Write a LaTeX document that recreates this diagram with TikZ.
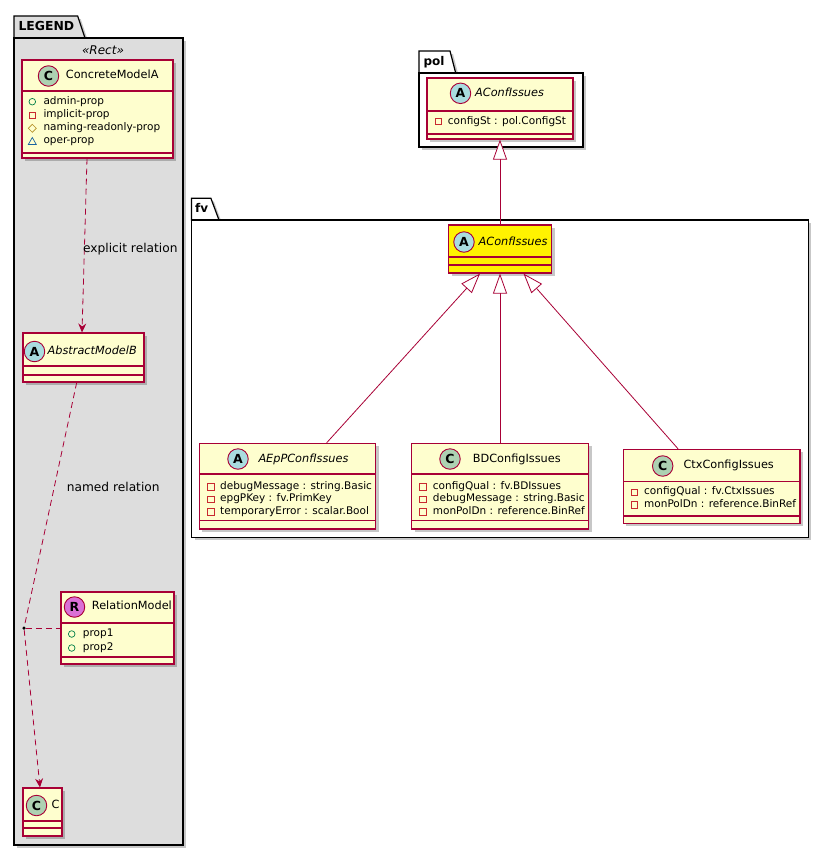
\documentclass[tikz,border=0pt]{standalone}
\usepackage{fontspec}
\setmainfont{DejaVu Sans}
\usetikzlibrary{arrows.meta,fit,shadows}
\definecolor{classbg}{HTML}{FEFECE}
\definecolor{umlred}{HTML}{A80036}
\definecolor{legendbg}{HTML}{DDDDDD}
\definecolor{spotA}{HTML}{A9DCDF}
\definecolor{spotC}{HTML}{ADD1B2}
\definecolor{spotR}{HTML}{DA70D6}
\definecolor{vispub}{HTML}{038048}
\definecolor{vispriv}{HTML}{C82930}
\definecolor{visprot}{HTML}{B38D22}
\definecolor{vispkg}{HTML}{1963A0}
\tikzset{
  myshadow/.style={drop shadow={shadow xshift=3pt, shadow yshift=-3pt, opacity=0.22, fill=black}},
  classbox/.style={draw=umlred, line width=1.1pt, fill=classbg, inner sep=0pt, myshadow},
  pkgbody/.style={draw=black, line width=1.2pt, inner sep=0pt, myshadow},
  pkgtab/.style={draw=black, line width=1.2pt, myshadow},
  sepline/.style={draw=umlred, line width=1.1pt},
  spot/.style={circle, draw=umlred, line width=0.9pt, minimum size=20.5pt, inner sep=0pt, font=\fontsize{12.5}{13}\selectfont\bfseries},
  cname/.style={anchor=west, inner sep=0pt, font=\fontsize{11.3}{13}\selectfont, text height=8pt, text depth=2.5pt},
  aname/.style={cname, font=\fontsize{11.3}{13}\selectfont\itshape},
  attrtext/.style={anchor=west, inner sep=0pt, font=\fontsize{10.5}{12}\selectfont, text height=7.5pt, text depth=2.3pt},
  pkglabel/.style={anchor=west, inner sep=0pt, font=\fontsize{12.4}{14}\selectfont\bfseries, text height=9pt, text depth=2.5pt},
  rellabel/.style={anchor=west, inner sep=0pt, font=\fontsize{12.2}{14}\selectfont, text height=9pt, text depth=2.5pt},
  conn/.style={draw=umlred, line width=0.8pt},
  dashedconn/.style={conn, dash pattern=on 6pt off 4pt},
  dep/.style={dashedconn, -{Stealth[length=9pt, width=8pt, inset=3pt]}},
  inh/.style={conn, -{Triangle[length=20pt, width=14pt, fill=white, line width=0.8pt]}},
  icon/.style={line width=0.7pt},
}
\newcommand{\icpub}[2]{\draw[icon, vispub] (#1,#2) circle (3.3pt);}
\newcommand{\icpriv}[2]{\draw[icon, vispriv, shift={(#1,#2)}] (-3.2,-3.2) rectangle (3.2,3.2);}
\newcommand{\icprot}[2]{\draw[icon, visprot, shift={(#1,#2)}] (0,-4) -- (4,0) -- (0,4) -- (-4,0) -- cycle;}
\newcommand{\icpkg}[2]{\draw[icon, vispkg, shift={(#1,#2)}] (0,-3.8) -- (4,3.2) -- (-4,3.2) -- cycle;}
\newcommand{\umlattr}[6]{#1{#2}{#4}\node[attrtext] (#5) at (#3,#4) {#6};}
\begin{document}
\begin{tikzpicture}[x=1pt, y=-1pt]
\useasboundingbox (0,0) rectangle (830,855);
\fill[white] (0,0) rectangle (830,855);

% ---------------- LEGEND package ----------------
\draw[pkgtab, fill=legendbg] (14,38) -- (14,16) -- (77.7,16) -- (85,38) -- cycle;
\node[pkgbody, fill=legendbg, fit={(14,38) (183,845)}] (legendpkg) {};
\node[pkglabel] (legendlbl) at (18.3,27) {LEGEND};
\node[inner sep=0pt, font=\fontsize{12}{14}\selectfont\itshape] (rectst) at (103,50) {«Rect»};

% ConcreteModelA
\node[classbox, fit={(22,60) (173,158)}] (cma) {};
\node[spot, fill=spotC] (cmaspot) at (48.5,76) {C};
\node[cname] (cmaname) at (65.7,76) {ConcreteModelA};
\draw[sepline] (22,91) -- (173,91);
\draw[sepline] (22,153) -- (173,153);
\umlattr{\icpub}{32.3}{43.3}{101.7}{cmaa1}{admin-prop}
\umlattr{\icpriv}{32.3}{43.3}{115.3}{cmaa2}{implicit-prop}
\umlattr{\icprot}{32.3}{43.3}{128.3}{cmaa3}{naming-readonly-prop}
\umlattr{\icpkg}{32.3}{43.3}{141.3}{cmaa4}{oper-prop}

% AbstractModelB
\node[classbox, fit={(23,333) (144,382)}] (amb) {};
\node[spot, fill=spotA] (ambspot) at (34.5,351.5) {A};
\node[aname] (ambname) at (47.5,352) {AbstractModelB};
\draw[sepline] (23,366) -- (144,366);
\draw[sepline] (23,375) -- (144,375);

% RelationModel
\node[classbox, fit={(61,592) (174,664)}] (rm) {};
\node[spot, fill=spotR] (rmspot) at (74.5,607) {R};
\node[cname] (rmname) at (91.7,607) {RelationModel};
\draw[sepline] (61,623) -- (174,623);
\draw[sepline] (61,657) -- (174,657);
\umlattr{\icpub}{71.7}{82.7}{634}{rma1}{prop1}
\umlattr{\icpub}{71.7}{82.7}{648}{rma2}{prop2}

% C
\node[classbox, fit={(23,788) (62,836)}] (cbox) {};
\node[spot, fill=spotC] (cspot) at (36.5,805.5) {C};
\node[cname] (cname) at (51.5,806) {C};
\draw[sepline] (23,821) -- (62,821);
\draw[sepline] (23,828) -- (62,828);

% dot
\node[circle, fill=black, minimum size=3.5pt, inner sep=0pt] (dot) at (24,628) {};

% legend connectors
\draw[dep] ([xshift=-10.5pt]cma.south) -- ([xshift=-1.5pt]amb.north);
\node[rellabel] (explbl) at (83,249.5) {explicit relation};
\draw[dashedconn] ([xshift=-6.8pt]amb.south) -- (dot);
\node[rellabel] (namedlbl) at (66.7,488) {named relation};
\draw[dashedconn] (dot) -- (rm.west);
\draw[dep] (dot) -- ([xshift=-2.5pt]cbox.north);

% ---------------- pol package ----------------
\draw[pkgtab, fill=white] (419,73) -- (419,51) -- (450,51) -- (455.7,73) -- cycle;
\node[pkgbody, fill=white, fit={(419,73) (583,147)}] (polpkg) {};
\node[pkglabel, font=\fontsize{12}{14}\selectfont\bfseries] (pollbl) at (423.3,62.5) {pol};
\node[classbox, fit={(427,78) (573,139)}] (polA) {};
\node[spot, fill=spotA] (polAspot) at (460.5,93.3) {A};
\node[aname] (polAname) at (475,94) {AConfIssues};
\draw[sepline] (427,111) -- (573,111);
\draw[sepline] (427,134) -- (573,134);
\umlattr{\icpriv}{438.3}{447.7}{121.5}{polAa1}{configSt : pol.ConfigSt}

% ---------------- fv package ----------------
\draw[pkgtab, fill=white] (191.5,220) -- (191.5,198.3) -- (210.9,198.3) -- (219,220) -- cycle;
\node[pkgbody, fill=white, fit={(191.5,220) (808.3,537.3)}] (fvpkg) {};
\node[pkglabel, font=\fontsize{12}{14}\selectfont\bfseries] (fvlbl) at (195,209.5) {fv};

% fv AConfIssues (yellow)
\node[classbox, fill=yellow, fit={(448.5,225) (551.5,273)}] (fvA) {};
\node[spot, fill=spotA] (fvAspot) at (464,242) {A};
\node[aname] (fvAname) at (478.5,242.3) {AConfIssues};
\draw[sepline] (448.5,257) -- (551.5,257);
\draw[sepline] (448.5,265) -- (551.5,265);

% AEpPConfIssues
\node[classbox, fit={(199.3,443.3) (375.7,529)}] (aepp) {};
\node[spot, fill=spotA] (aeppspot) at (238,459) {A};
\node[aname] (aeppname) at (258.3,459.3) {AEpPConfIssues};
\draw[sepline] (199.3,474) -- (375.7,474);
\draw[sepline] (199.3,520.7) -- (375.7,520.7);
\umlattr{\icpriv}{210.7}{220}{486.7}{aeppa1}{debugMessage : string.Basic}
\umlattr{\icpriv}{210.7}{220}{499.3}{aeppa2}{epgPKey : fv.PrimKey}
\umlattr{\icpriv}{210.7}{220}{511.9}{aeppa3}{temporaryError : scalar.Bool}

% BDConfigIssues
\node[classbox, fit={(411.5,443.3) (588.5,529)}] (bd) {};
\node[spot, fill=spotC] (bdspot) at (450,459) {C};
\node[cname] (bdname) at (472.7,459.3) {BDConfigIssues};
\draw[sepline] (411.5,474) -- (588.5,474);
\draw[sepline] (411.5,520.7) -- (588.5,520.7);
\umlattr{\icpriv}{422.7}{432.7}{486.7}{bda1}{configQual : fv.BDIssues}
\umlattr{\icpriv}{422.7}{432.7}{499.3}{bda2}{debugMessage : string.Basic}
\umlattr{\icpriv}{422.7}{432.7}{511.9}{bda3}{monPolDn : reference.BinRef}

% CtxConfigIssues
\node[classbox, fit={(623.3,449.3) (800,523.3)}] (ctx) {};
\node[spot, fill=spotC] (ctxspot) at (662.7,466) {C};
\node[cname] (ctxname) at (683.3,466) {CtxConfigIssues};
\draw[sepline] (623.3,481.7) -- (800,481.7);
\draw[sepline] (623.3,516) -- (800,516);
\umlattr{\icpriv}{634.3}{644}{492.3}{ctxa1}{configQual : fv.CtxIssues}
\umlattr{\icpriv}{634.3}{644}{505}{ctxa2}{monPolDn : reference.BinRef}

% inheritance connectors
\draw[inh] (fvA.north) -- (polA.south);
\draw[inh] ([xshift=39.2pt]aepp.north) -- ([xshift=-20pt]fvA.south);
\draw[inh] (bd.north) -- (fvA.south);
\draw[inh] ([xshift=-33.65pt]ctx.north) -- ([xshift=23.5pt]fvA.south);
\end{tikzpicture}
\end{document}
